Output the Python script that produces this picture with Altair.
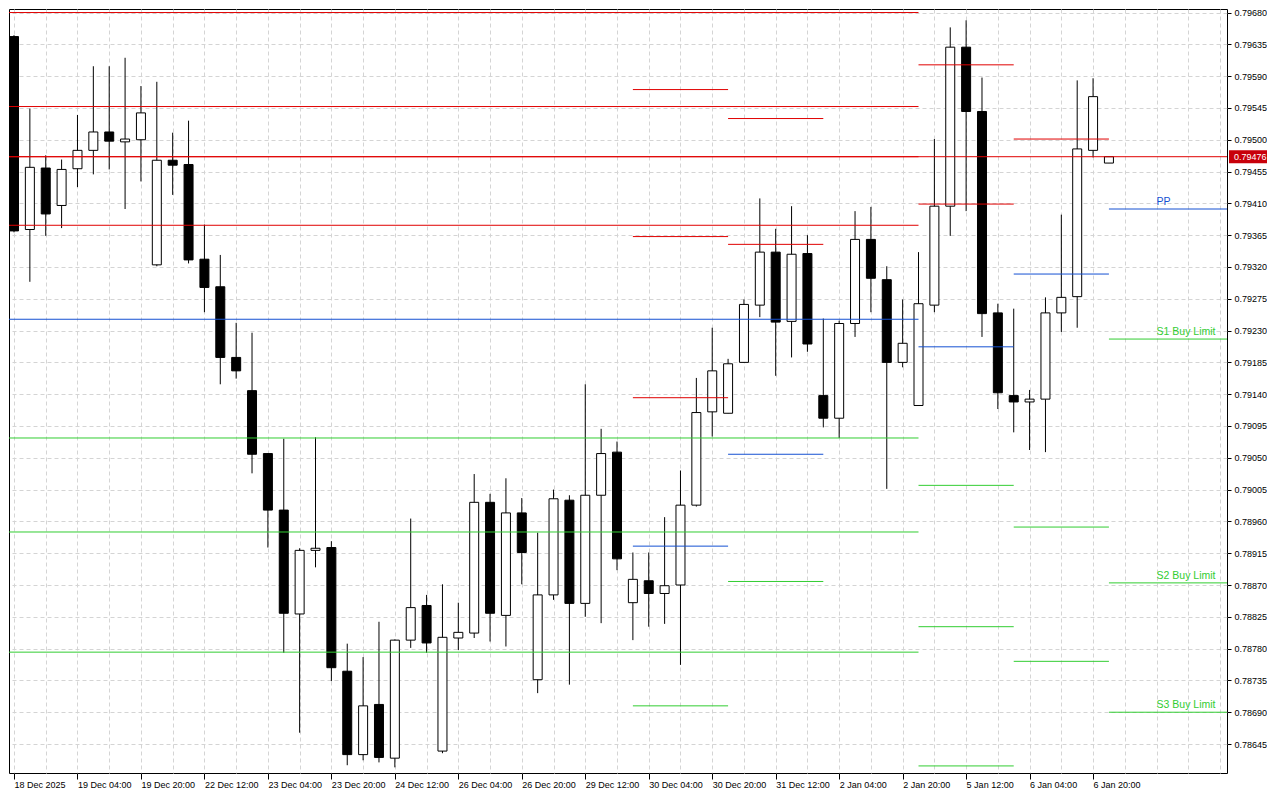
import altair as alt
import pandas as pd

# ---- 4h candles (index 0..69) ----
open_ = [0.79646, 0.79373, 0.79460, 0.79407, 0.79459, 0.79485, 0.79511, 0.79497, 0.79500, 0.79323,
         0.79471, 0.79465, 0.79331, 0.79292, 0.79192, 0.79145, 0.79056, 0.78976, 0.78829, 0.78919,
         0.78923, 0.78748, 0.78630, 0.78701, 0.78625, 0.78792, 0.78841, 0.78635, 0.78795, 0.78802,
         0.78987, 0.78827, 0.78972, 0.78736, 0.78856, 0.78990, 0.78844, 0.78997, 0.79058, 0.78845,
         0.78876, 0.78858, 0.78870, 0.78983, 0.79115, 0.79113, 0.79185, 0.79266, 0.79341, 0.79243,
         0.79339, 0.79138, 0.79106, 0.79240, 0.79359, 0.79302, 0.79185, 0.79124, 0.79266, 0.79406,
         0.79631, 0.79540, 0.79255, 0.79138, 0.79129, 0.79133, 0.79255, 0.79278, 0.79485, 0.79467]
close_ = [0.79371, 0.79461, 0.79395, 0.79458, 0.79485, 0.79511, 0.79498, 0.79501, 0.79538, 0.79471,
          0.79464, 0.79330, 0.79291, 0.79192, 0.79173, 0.79055, 0.78976, 0.78830, 0.78919, 0.78922,
          0.78753, 0.78630, 0.78699, 0.78626, 0.78792, 0.78838, 0.78788, 0.78796, 0.78803, 0.78987,
          0.78830, 0.78972, 0.78916, 0.78856, 0.78992, 0.78844, 0.78997, 0.79056, 0.78907, 0.78878,
          0.78858, 0.78869, 0.78983, 0.79114, 0.79173, 0.79183, 0.79267, 0.79341, 0.79242, 0.79338,
          0.79211, 0.79106, 0.79240, 0.79359, 0.79304, 0.79185, 0.79212, 0.79268, 0.79406, 0.79631,
          0.79540, 0.79254, 0.79142, 0.79129, 0.79133, 0.79255, 0.79277, 0.79487, 0.79561, 0.79476]
high_ = [0.79648, 0.79544, 0.79478, 0.79472, 0.79535, 0.79604, 0.79604, 0.79616, 0.79576, 0.79582,
         0.79510, 0.79527, 0.79380, 0.79337, 0.79241, 0.79227, 0.79056, 0.79077, 0.78922, 0.79079,
         0.78932, 0.78787, 0.78768, 0.78818, 0.78793, 0.78964, 0.78856, 0.78871, 0.78845, 0.79027,
         0.78999, 0.79021, 0.78993, 0.78944, 0.79005, 0.78997, 0.79154, 0.79091, 0.79073, 0.78916,
         0.78916, 0.78966, 0.79032, 0.79163, 0.79234, 0.79190, 0.79274, 0.79417, 0.79374, 0.79406,
         0.79365, 0.79247, 0.79244, 0.79399, 0.79405, 0.79321, 0.79274, 0.79341, 0.79501, 0.79659,
         0.79669, 0.79588, 0.79268, 0.79261, 0.79146, 0.79277, 0.79394, 0.79584, 0.79587, 0.79476]
low_ = [0.79369, 0.79299, 0.79364, 0.79375, 0.79433, 0.79451, 0.79458, 0.79402, 0.79441, 0.79321,
        0.79422, 0.79325, 0.79256, 0.79154, 0.79162, 0.79028, 0.78923, 0.78774, 0.78661, 0.78895,
        0.78734, 0.78615, 0.78622, 0.78619, 0.78612, 0.78781, 0.78774, 0.78632, 0.78778, 0.78795,
        0.78790, 0.78783, 0.78871, 0.78717, 0.78849, 0.78729, 0.78825, 0.78816, 0.78891, 0.78792,
        0.78811, 0.78815, 0.78757, 0.78981, 0.79080, 0.79113, 0.79185, 0.79249, 0.79166, 0.79192,
        0.79200, 0.79093, 0.79078, 0.79221, 0.79256, 0.79006, 0.79178, 0.79124, 0.79256, 0.79364,
        0.79399, 0.79221, 0.79119, 0.79086, 0.79061, 0.79058, 0.79228, 0.79234, 0.79475, 0.79467]

# ---- x-axis labels (every 4 candles) ----
tick_labels = ["18 Dec 2025", "19 Dec 04:00", "19 Dec 20:00", "22 Dec 12:00", "23 Dec 04:00",
               "23 Dec 20:00", "24 Dec 12:00", "26 Dec 04:00", "26 Dec 20:00", "29 Dec 12:00",
               "30 Dec 04:00", "30 Dec 20:00", "31 Dec 12:00", "2 Jan 04:00", "2 Jan 20:00",
               "5 Jan 12:00", "6 Jan 04:00", "6 Jan 20:00"]
x_grid = list(range(0, 77, 2))

# ---- price axis ticks ----
y_ticks = [0.79680, 0.79635, 0.79590, 0.79545, 0.79500, 0.79455, 0.79410, 0.79365,
           0.79320, 0.79275, 0.79230, 0.79185, 0.79140, 0.79095, 0.79050, 0.79005,
           0.78960, 0.78915, 0.78870, 0.78825, 0.78780, 0.78735, 0.78690, 0.78645]

# ---- pivot level segments ----
seg_start = [-1] * 8 + [39] * 5 + [45] * 4 + [57] * 6 + [63] * 4 + [69] * 4
seg_end = [57] * 8 + [45] * 5 + [51] * 4 + [63] * 6 + [69] * 4 + [80] * 4
seg_price = [0.79680, 0.79547, 0.79476, 0.79379, 0.79246, 0.79078, 0.78945, 0.78775,
             0.79571, 0.79363, 0.79135, 0.78925, 0.78699,
             0.79530, 0.79352, 0.79055, 0.78875,
             0.79606, 0.79409, 0.79207, 0.79011, 0.78811, 0.78614,
             0.79501, 0.79310, 0.78952, 0.78762,
             0.79402, 0.79218, 0.78873, 0.78690]
seg_kind = ["R", "R", "R", "R", "P", "S", "S", "S",
            "R", "R", "R", "P", "S",
            "R", "R", "P", "S",
            "R", "R", "P", "S", "S", "S",
            "R", "P", "S", "S",
            "P", "S", "S", "S"]

label_text = ["PP", "S1 Buy Limit", "S2 Buy Limit", "S3 Buy Limit"]
label_price = [0.79402, 0.79218, 0.78873, 0.78690]
label_kind = ["P", "S", "S", "S"]
label_pos = [72, 72, 72, 72]

current_price = [0.79476]
current_text = ["0.79476"]

W, H = 1218, 764
FONT = "Liberation Sans"
kind_scale = alt.Scale(domain=["R", "P", "S"], range=["#e00000", "#1450d2", "#32cd32"])

candles = pd.DataFrame({"i": list(range(len(open_))), "o": open_, "h": high_,
                        "l": low_, "c": close_})
segs = pd.DataFrame({"x0": seg_start, "x1": seg_end, "p": seg_price, "k": seg_kind})
labels = pd.DataFrame({"x": label_pos, "p": label_price, "t": label_text, "k": label_kind})
cur = pd.DataFrame({"p": current_price, "t": current_text})

xscale = alt.Scale(domain=[0.0, 76.125], nice=False, zero=False)
yscale = alt.Scale(domain=[0.78604, 0.79685], nice=False, zero=False)

label_arr = "[" + ",".join("'" + t + "'" for t in tick_labels) + "]"
x_axis = alt.Axis(
    values=x_grid, tickCount=200, grid=True, gridColor="#d4d4d4", gridDash=[4, 3], gridWidth=1,
    domain=False, ticks=True, tickSize=6, tickColor="black", tickWidth=1,
    tickOpacity={"condition": {"test": "datum.value % 4 === 0 && datum.value <= 68", "value": 1}, "value": 0},
    labelExpr="(datum.value % 4 === 0 && datum.value <= 68) ? " + label_arr + "[datum.value / 4] : ''",
    labelAlign="left", labelBaseline="top", labelPadding=1,
    labelFont=FONT, labelFontSize=9, labelColor="black",
    labelOverlap=False, labelFlush=False, labelBound=False, title=None)
y_axis = alt.Axis(
    orient="right", values=y_ticks, tickCount=200, format=".5f", grid=True, gridColor="#d4d4d4",
    gridDash=[4, 3], gridWidth=1, domain=False, tickSize=4, tickColor="black",
    labelPadding=3, labelFont=FONT, labelFontSize=9, labelColor="black",
    labelOverlap=False, labelFlush=False, title=None)

base = alt.Chart(candles)
wicks = base.mark_rule(color="black", strokeWidth=1, clip=True).encode(
    x=alt.X("i:Q", scale=xscale, axis=x_axis),
    y=alt.Y("l:Q", scale=yscale, axis=y_axis),
    y2="h:Q")
bodies = base.mark_bar(width=9, stroke="black", strokeWidth=1, clip=True).encode(
    x=alt.X("i:Q", scale=xscale),
    y=alt.Y("o:Q", scale=yscale),
    y2="c:Q",
    fill=alt.condition("datum.c >= datum.o", alt.value("white"), alt.value("black")))

lines = alt.Chart(segs).mark_rule(strokeWidth=1, clip=True).encode(
    x=alt.X("x0:Q", scale=xscale), x2="x1:Q",
    y=alt.Y("p:Q", scale=yscale),
    color=alt.Color("k:N", scale=kind_scale, legend=None))

price_line = alt.Chart(cur).mark_rule(color="#e00000", strokeWidth=1).encode(
    x=alt.value(0), x2=alt.value(W), y=alt.Y("p:Q", scale=yscale))

texts = alt.Chart(labels).mark_text(align="left", baseline="alphabetic", dy=-4,
                                    font=FONT, fontSize=10.5, clip=True).encode(
    x=alt.X("x:Q", scale=xscale), y=alt.Y("p:Q", scale=yscale), text="t:N",
    color=alt.Color("k:N", scale=kind_scale, legend=None))

tag = alt.Chart(cur).mark_rect(color="#c8000a", height=13).encode(
    x=alt.value(W + 2), x2=alt.value(W + 40), y=alt.Y("p:Q", scale=yscale))
tag_text = alt.Chart(cur).mark_text(align="left", baseline="middle", color="white",
                                    font=FONT, fontSize=9).encode(
    x=alt.value(W + 7), y=alt.Y("p:Q", scale=yscale), text="t:N")

chart = alt.layer(wicks, bodies, lines, price_line, texts, tag, tag_text).properties(
    width=W, height=H, padding=0, background="white"
).configure_view(stroke="black", strokeWidth=1)

chart.save("out.html", embed_options={"renderer": "svg", "actions": False})
